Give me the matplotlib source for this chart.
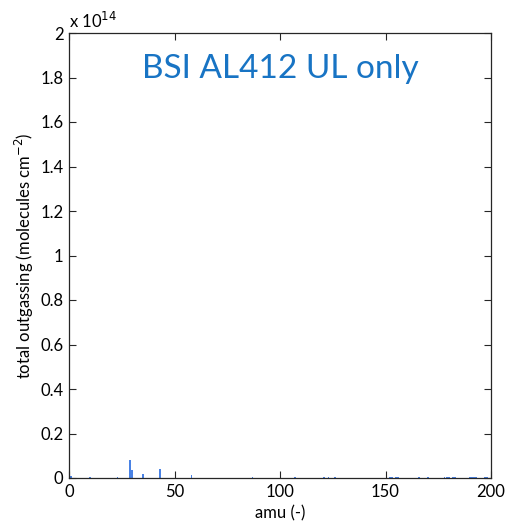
import matplotlib
matplotlib.use("Agg")
import matplotlib.pyplot as plt

plt.rcParams['font.family'] = ['Lato', 'DejaVu Sans']

# data (total outgassing in units of 1e14 molecules cm^-2)
amu = [1, 10, 23, 29, 30, 35, 43, 58, 87, 107, 121, 123, 126,
       152, 153, 155, 156, 166, 170, 178, 179, 180, 182, 183,
       190, 191, 192, 193, 197, 198]
outgassing = [0.010, 0.005, 0.006, 0.081, 0.036, 0.017, 0.040, 0.013,
              0.004, 0.004, 0.004, 0.004, 0.004,
              0.004, 0.004, 0.004, 0.004, 0.003, 0.004, 0.004, 0.004, 0.004,
              0.004, 0.004, 0.004, 0.004, 0.004, 0.004, 0.004, 0.004]
xticks = [0, 50, 100, 150, 200]
yticks = [0, 0.2, 0.4, 0.6, 0.8, 1, 1.2, 1.4, 1.6, 1.8, 2]
yticklabels = ['0', '0.2', '0.4', '0.6', '0.8', '1', '1.2', '1.4', '1.6', '1.8', '2']

fig = plt.figure(figsize=(5.06, 5.23), dpi=100)
ax = fig.add_axes([69/506, 45/523, 422/506, 445/523])

ax.bar(amu, outgassing, width=0.8, color='#4A82E4', edgecolor='none')

ax.set_xlim(0, 200)
ax.set_ylim(0, 2)
ax.set_xticks(xticks)
ax.set_yticks(yticks)
ax.set_yticklabels(yticklabels)
ax.tick_params(direction='in', top=True, right=True, length=5, width=0.8,
               labelsize=12, colors='#262626', pad=4)
ax.tick_params(axis='x', labelcolor='black')
ax.tick_params(axis='y', labelcolor='black')
for s in ax.spines.values():
    s.set_color('#262626')
    s.set_linewidth(0.9)

ax.set_xlabel('amu (-)', fontsize=12, labelpad=4)
ax.set_ylabel('total outgassing (molecules cm$^{-2}$)', fontsize=12, labelpad=3)

ax.text(0.0, 1.005, r'x 10$^{14}$', transform=ax.transAxes, fontsize=12,
        ha='left', va='bottom')

ax.text(0.5, 0.898, 'BSI AL412 UL only', transform=ax.transAxes, fontsize=24,
        color='#1874C4', ha='center', va='baseline')

fig.savefig('out.png', dpi=100)
